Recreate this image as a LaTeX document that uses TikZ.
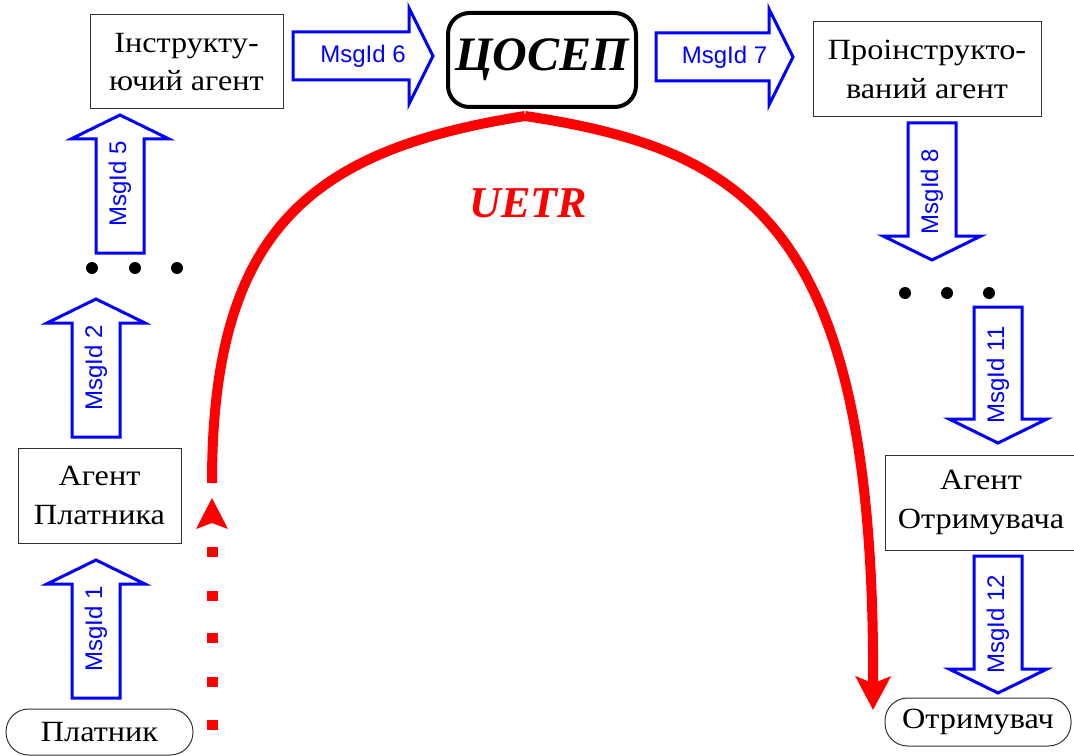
\documentclass[tikz,border=0pt]{standalone}
\usepackage{fontspec}
\setmainfont{Liberation Serif}
\newfontfamily\arialf{Liberation Sans}
\newfontfamily\boxfont[FakeStretch=1.1]{Liberation Serif}
\usetikzlibrary{arrows.meta}
\tikzset{
  box/.style={draw=black!80, line width=0.75pt, align=center, inner sep=0pt, font=\boxfont\fontsize{22}{29}\selectfont},
  pill/.style={box, rounded corners=17pt},
  cosepbox/.style={draw=black, line width=3pt, rounded corners=16pt, inner sep=0pt, font=\fontsize{36}{40}\selectfont\bfseries\itshape},
  blk/.style={draw=blue, line width=2.25pt, line join=miter, fill=white},
  msg/.style={text=blue, font=\arialf\fontsize{18}{20}\selectfont, inner sep=0pt},
  redarc/.style={draw=red, line width=7.5pt},
  dot/.style={fill=black}
}
\newcommand{\blkup}[5]{%
  \draw[blk] (#1-24,#3) -- (#1-24,#2+24) -- (#1-49,#2+24) -- (#1,#2) -- (#1+49,#2+24) -- (#1+24,#2+24) -- (#1+24,#3) -- cycle;
  \node[msg,rotate=90] (#5) at (#1,{(#2+#3)/2}) {#4};}
\newcommand{\blkdown}[5]{%
  \draw[blk] (#1-24,#2) -- (#1-24,#3-24) -- (#1-49,#3-24) -- (#1,#3) -- (#1+49,#3-24) -- (#1+24,#3-24) -- (#1+24,#2) -- cycle;
  \node[msg,rotate=90] (#5) at (#1,{(#2+#3)/2}) {#4};}
\newcommand{\blkright}[5]{%
  \draw[blk] (#2,#1-24) -- (#3-24,#1-24) -- (#3-24,#1-48) -- (#3,#1) -- (#3-24,#1+48) -- (#3-24,#1+24) -- (#2,#1+24) -- cycle;
  \node[msg] (#5) at ({(#2+#3)/2},#1) {#4};}
\begin{document}
\begin{tikzpicture}[x=0.75pt,y=-0.75pt]
\useasboundingbox (0,0) rectangle (1074,756);
% boxes
\node[box, minimum width=144.75pt, minimum height=70.5pt] (instr) at (186.5,62) {Інструкту-\\ючий агент};
\node[box, minimum width=171pt, minimum height=71.25pt] (proinstr) at (927,69.5) {Проінструкто-\\ваний агент};
\node[cosepbox, minimum width=141pt, minimum height=70.5pt] (cosep) at (542,60) {ЦОСЕП};
\node[box, minimum width=122.25pt, minimum height=71.25pt] (agpl) at (99.5,495.5) {Агент\\Платника};
\node[pill, minimum width=140.25pt, minimum height=34.5pt] (platnyk) at (99.5,732) {Платник};
\node[box, minimum width=144pt, minimum height=71.25pt] (agotr) at (981,502.5) {Агент\\Отримувача};
\node[pill, minimum width=139.5pt, minimum height=36pt] (otrym) at (978,722) {Отримувач};
% block arrows
\blkup{96}{560}{698}{MsgId 1}{m1}
\blkup{96}{299}{437}{MsgId 2}{m2}
\blkup{120}{115}{253}{MsgId 5}{m5}
\blkright{56}{293}{433}{MsgId 6}{m6}
\blkright{57}{656}{793}{MsgId 7}{m7}
\blkdown{932}{123}{260}{MsgId 8}{m8}
\blkdown{998}{307}{443}{MsgId 11}{m11}
\blkdown{998}{556}{693}{MsgId 12}{m12}
% dots
\foreach \x in {92,135,177} \fill[dot] (\x,268) circle (4.5pt);
\foreach \x in {905,947,989} \fill[dot] (\x,293) circle (4.5pt);
% red UETR arc
\coordinate (top) at (525,116);
\coordinate (lstart) at (212,483);
\coordinate (rend) at (873,710);
\draw[redarc] (lstart) .. controls (212,230) and (310,150) .. (top);
\draw[redarc, -{Stealth[length=25pt,width=26pt,inset=5pt]}] (top) .. controls (752,150) and (875,230) .. (rend);
\node[text=red, font=\fontsize{33}{36}\selectfont\bfseries\itshape, inner sep=0pt] (uetr) at (528,203) {UETR};
% dotted start
\foreach \y in {552,596,638,682,725} \fill[red] (206.5,\y-5) rectangle (217.5,\y+5);
\fill[red] (212,498) -- (228,529) -- (212,523) -- (196,529) -- cycle;
\end{tikzpicture}
\end{document}
